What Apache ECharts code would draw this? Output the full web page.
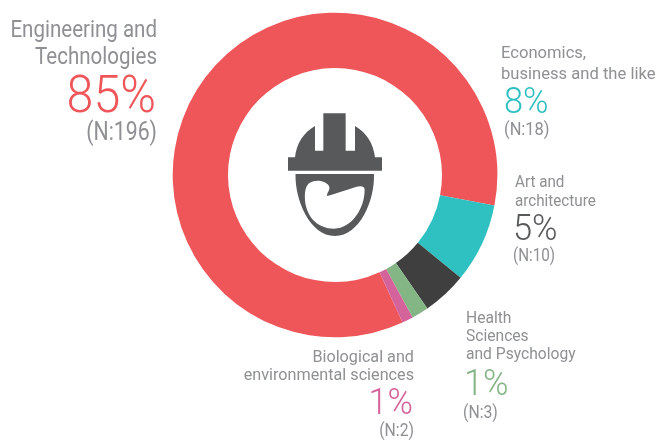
<!DOCTYPE html>
<html><head><meta charset="utf-8">
<style>html,body{margin:0;padding:0;background:#fff}#c{width:656px;height:440px}</style>
<script src="https://cdn.jsdelivr.net/npm/echarts@6/dist/echarts.min.js"></script></head>
<body><div id="c"></div>
<script>
const categories = ['Engineering and Technologies','Economics, business and the like','Art and architecture','Health Sciences and Psychology','Biological and environmental sciences'];
const arcShares = [84.85,7.9,4.45,1.7,1.1];
const percents = ['85%','8%','5%','1%','1%'];
const notes = ['(N:196)','(N:18)','(N:10)','(N:3)','(N:2)'];
const colors = ['#ef5659','#2fc0c1','#3f3f40','#84b585','#d4629b'];
const pctColors = ['#ef5659','#2fc0c1','#58595b','#84b585','#d4629b'];
const titleLines = [['Engineering and','Technologies'],['Economics,','business and the like'],['Art and','architecture'],['Health','Sciences','and Psychology'],['Biological and','environmental sciences']];
const FONT = 'Roboto,sans-serif';
const GRAY = '#8e9093';
const layout = [
 {x:157,align:'right',titleY:[30.5,58],ts:24,tsx:.855,pctX:156,pctY:98.5,ps:52,psx:.93,noteX:157,noteY:133.5,ns:25,nsx:.85},
 {x:501,align:'left',titleY:[53.5,74.5],ts:17.3,tsx:.96,pctX:504,pctY:103.5,ps:36,psx:.956,noteX:504,noteY:130.5,ns:17.5,nsx:.94},
 {x:515,align:'left',titleY:[182.5,201.5],ts:17.3,tsx:.88,pctX:513,pctY:230.5,ps:36,psx:.956,noteX:513,noteY:256.5,ns:17.5,nsx:.87},
 {x:466,align:'left',titleY:[318.5,336.5,354.5],ts:17.3,tsx:.904,pctX:464,pctY:385.5,ps:36,psx:.956,noteX:463,noteY:414,ns:17.5,nsx:.9},
 {x:414,align:'right',titleY:[357.5,375.5],ts:17.3,tsx:.937,pctX:413,pctY:404.5,ps:36,psx:.956,noteX:414,noteY:432,ns:17.5,nsx:.9}
];
const graphics = [];
function t(str,x,y,size,sx,weight,fill,align){graphics.push({type:'text',x:x,y:y,scaleX:sx,silent:true,style:{text:str,font:weight+' '+size+'px '+FONT,fill:fill,textAlign:align,textVerticalAlign:'middle'}});}
layout.forEach((l,i)=>{
  titleLines[i].forEach((s,j)=>t(s,l.x,l.titleY[j],l.ts,l.tsx,400,GRAY,l.align));
  t(percents[i],l.pctX,l.pctY,l.ps,l.psx,300,pctColors[i],l.align);
  t(notes[i],l.noteX,l.noteY,l.ns,l.nsx,400,GRAY,l.align);
});
const helmet = 'M54 172 L75 172 C80 130 100 98 135 78 L135 152 L160 152 L160 40 L227 40 L227 152 L255 152 L255 78 C290 98 310 130 315 172 L336 172 L336 212 L54 212 Z';
const face = 'M77 222 L312 222 C315 300 270 408 195 408 C120 408 75 300 77 222 Z M105 290 C105 345 140 386 193 386 C245 386 285 325 284 268 C284 258 270 256 255 262 C225 272 195 282 172 288 C168 280 185 270 176 256 C165 240 135 238 120 248 C108 256 105 272 105 290 Z';
const chart = echarts.init(document.getElementById('c'),null,{renderer:'canvas'});
chart.setOption({
  animation:false,
  color:colors,
  graphic:graphics,
  series:[{type:'pie',center:[335,175],radius:[107,162.3],startAngle:-65.4,clockwise:true,silent:true,
    avoidLabelOverlap:false,label:{show:false},labelLine:{show:false},
    itemStyle:{borderWidth:0},
    data:categories.map((n,i)=>({name:n,value:arcShares[i]}))},
   {type:'custom',coordinateSystem:'none',silent:true,data:[0],
    renderItem:()=>({type:'group',children:[
      {type:'path',shape:{pathData:helmet,layout:'cover',x:288,y:113.3,width:94,height:57.4},style:{fill:'#58595b'}},
      {type:'path',shape:{pathData:face,layout:'cover',x:295.5,y:174,width:78.5,height:62},style:{fill:'#58595b'}}
    ]})}]
});
</script></body></html>
